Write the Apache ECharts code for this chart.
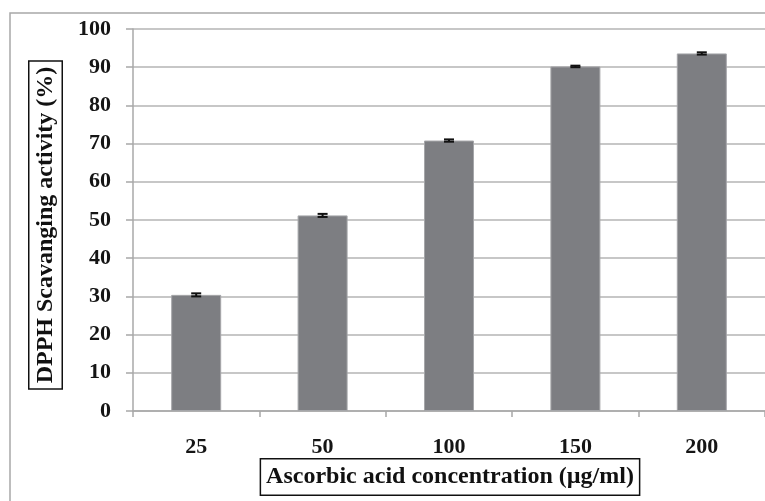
<!DOCTYPE html>
<html>
<head>
<meta charset="utf-8">
<script src="https://cdn.jsdelivr.net/npm/echarts@6/dist/echarts.min.js"></script>
<style>html,body{margin:0;padding:0;background:#fff;}#c{width:765px;height:501px;}</style>
</head>
<body>
<div id="c"></div>
<script>
const categories = ['25', '50', '100', '150', '200'];
const values = [30.4, 51.2, 70.8, 90.2, 93.6];
const errors = [0.4, 0.4, 0.3, 0.2, 0.3];
const yTicks = [0, 10, 20, 30, 40, 50, 60, 70, 80, 90, 100];
const xTitle = 'Ascorbic acid concentration (µg/ml)';
const yTitle = 'DPPH Scavanging activity (%)';

const chart = echarts.init(document.getElementById('c'), null, {renderer: 'canvas'});
const font = '"Liberation Serif", "Times New Roman", serif';
chart.setOption({
  animation: false,
  backgroundColor: '#fff',
  grid: {left: 133, top: 29, width: 640, height: 382, containLabel: false},
  xAxis: {
    type: 'category',
    data: categories,
    axisLine: {show: true, lineStyle: {color: '#a8a8a8', width: 1.5}},
    axisTick: {show: true, length: 6, lineStyle: {color: '#a8a8a8', width: 1.5}, alignWithLabel: false},
    axisLabel: {color: '#151515', fontFamily: font, fontWeight: 'bold', fontSize: 22, margin: 25}
  },
  yAxis: {
    type: 'value',
    min: yTicks[0],
    max: yTicks[yTicks.length - 1],
    interval: 10,
    axisLine: {show: true, lineStyle: {color: '#a8a8a8', width: 1.5}},
    axisTick: {show: true, inside: false, length: 7, lineStyle: {color: '#a8a8a8', width: 1.5}},
    splitLine: {show: true, lineStyle: {color: '#b4b4b4', width: 1.5}},
    axisLabel: {color: '#151515', fontFamily: font, fontWeight: 'bold', fontSize: 22, margin: 22}
  },
  series: [
    {
      type: 'bar',
      data: values,
      barWidth: 50,
      itemStyle: {color: '#7d7e82', borderColor: '#a5a6a9', borderWidth: 1}
    },
    {
      type: 'custom',
      data: values.map((v, i) => [i, v, errors[i]]),
      renderItem: function (params, api) {
        const x = api.value(0), v = api.value(1), e = api.value(2);
        const top = api.coord([x, v + e]);
        const bot = api.coord([x, v - e]);
        const hw = 5;
        const st = {stroke: '#111', lineWidth: 2};
        return {
          type: 'group',
          children: [
            {type: 'line', shape: {x1: top[0], y1: top[1], x2: bot[0], y2: bot[1]}, style: st},
            {type: 'line', shape: {x1: top[0] - hw, y1: top[1], x2: top[0] + hw, y2: top[1]}, style: st},
            {type: 'line', shape: {x1: bot[0] - hw, y1: bot[1], x2: bot[0] + hw, y2: bot[1]}, style: st}
          ]
        };
      },
      z: 10
    }
  ],
  graphic: [
    {type: 'rect', shape: {x: 10, y: 13, width: 770, height: 500}, style: {fill: null, stroke: '#a8a8a8', lineWidth: 1.5}, silent: true},
    {
      type: 'text', x: 45.5, y: 225, rotation: Math.PI / 2,
      style: {text: yTitle, font: 'bold 24px ' + font, fill: '#111', align: 'center', verticalAlign: 'middle',
              borderColor: '#111', borderWidth: 1.5, padding: [5, 5, 3, 5], backgroundColor: '#fff'}
    },
    {
      type: 'text', x: 450, y: 477,
      style: {text: xTitle, font: 'bold 24px ' + font, fill: '#111', align: 'center', verticalAlign: 'middle',
              borderColor: '#111', borderWidth: 1.5, padding: [6, 5, 5, 5], backgroundColor: '#fff'}
    }
  ]
});
</script>
</body>
</html>
